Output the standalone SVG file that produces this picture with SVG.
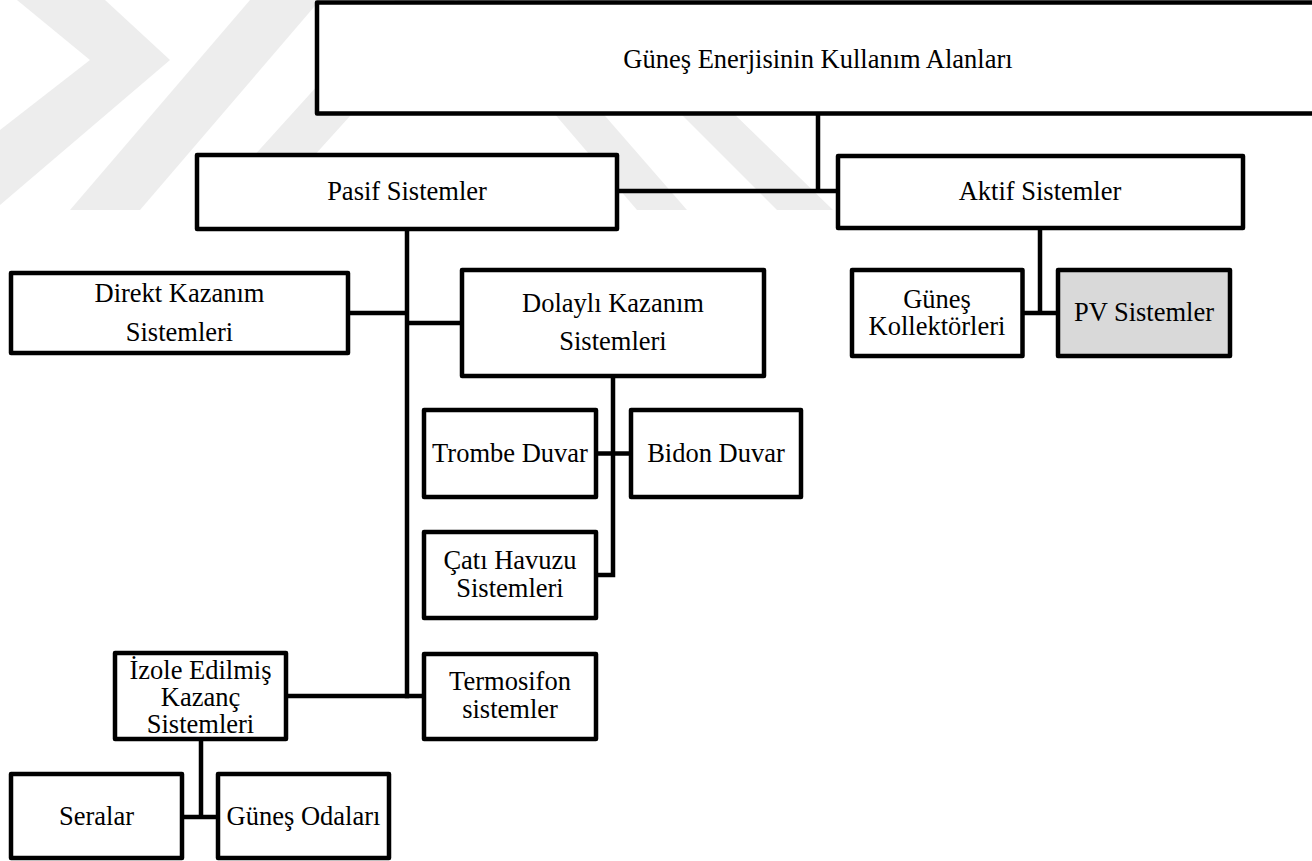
<svg xmlns="http://www.w3.org/2000/svg" width="1312" height="861" viewBox="0 0 1312 861">
  <style>
    .box { fill: #ffffff; stroke: #000000; stroke-width: 4.5; stroke-linejoin: round; }
    .box.shaded { fill: #d9d9d9; }
    .wire { fill: none; stroke: #000000; stroke-width: 4.5; stroke-linecap: square; }
    .label { font-family: "Liberation Serif", "Times New Roman", serif; font-size: 26.5px; fill: #000000; text-anchor: middle; }
    .mark { fill: #ededed; }
  </style>

  <rect width="1312" height="861" fill="#ffffff"/>

  <!-- faint background emblem -->
  <g id="emblem">
    <polygon class="mark" points="17,0 105,0 170,60 0,205 0,130 90,60"/>
    <polygon class="mark" points="70,210 140,210 320,0 250,0"/>
    <polygon class="mark" points="205,210 265,210 455,0 395,0"/>
    <polygon class="mark" points="457,0 504,0 687,210 637,210"/>
    <polygon class="mark" points="567,0 617,0 833,210 777,210"/>
  </g>

  <!-- connectors -->
  <g id="connectors">
    <path class="wire" d="M818,113 V191 M617,191 H838"/>
    <path class="wire" d="M407,229 V696 M348,313 H407 M407,323 H462"/>
    <path class="wire" d="M613,376 V575 M596,453.5 H631 M596,575 H613"/>
    <path class="wire" d="M286,696 H424"/>
    <path class="wire" d="M201,739 V817 M182,817 H218"/>
    <path class="wire" d="M1040,228 V313 M1022,313 H1058"/>
  </g>

  <g id="root">
    <rect class="box" x="317" y="2.5" width="1050" height="111"/>
    <text class="label" x="818" y="68">Güneş Enerjisinin Kullanım Alanları</text>
  </g>

  <g id="pasif">
    <rect class="box" x="197" y="155" width="420" height="74"/>
    <text class="label" x="407" y="200">Pasif Sistemler</text>
  </g>

  <g id="aktif">
    <rect class="box" x="838" y="156" width="405" height="72"/>
    <text class="label" x="1040" y="200">Aktif Sistemler</text>
  </g>

  <g id="direkt">
    <rect class="box" x="11" y="273" width="337" height="80"/>
    <text class="label" x="179.5" y="302">Direkt Kazanım</text>
    <text class="label" x="179.5" y="341">Sistemleri</text>
  </g>

  <g id="dolayli">
    <rect class="box" x="462" y="270" width="302" height="106"/>
    <text class="label" x="613" y="312">Dolaylı Kazanım</text>
    <text class="label" x="613" y="350">Sistemleri</text>
  </g>

  <g id="trombe">
    <rect class="box" x="424" y="410" width="172" height="87"/>
    <text class="label" x="510" y="462">Trombe Duvar</text>
  </g>

  <g id="bidon">
    <rect class="box" x="631" y="410" width="170" height="87"/>
    <text class="label" x="716" y="462">Bidon Duvar</text>
  </g>

  <g id="cati">
    <rect class="box" x="424" y="532" width="172" height="86"/>
    <text class="label" x="510" y="569">Çatı Havuzu</text>
    <text class="label" x="510" y="597">Sistemleri</text>
  </g>

  <g id="termosifon">
    <rect class="box" x="424" y="654" width="172" height="85"/>
    <text class="label" x="510" y="690">Termosifon</text>
    <text class="label" x="510" y="718">sistemler</text>
  </g>

  <g id="izole">
    <rect class="box" x="115" y="653" width="171" height="86"/>
    <text class="label" x="200.5" y="679">İzole Edilmiş</text>
    <text class="label" x="200.5" y="706">Kazanç</text>
    <text class="label" x="200.5" y="733">Sistemleri</text>
  </g>

  <g id="seralar">
    <rect class="box" x="11" y="774" width="171" height="84"/>
    <text class="label" x="96.5" y="825">Seralar</text>
  </g>

  <g id="gunes-odalari">
    <rect class="box" x="218" y="774" width="171" height="84"/>
    <text class="label" x="303.5" y="825">Güneş Odaları</text>
  </g>

  <g id="kollektor">
    <rect class="box" x="852" y="270" width="170.5" height="86"/>
    <text class="label" x="937" y="307.5">Güneş</text>
    <text class="label" x="937" y="335">Kollektörleri</text>
  </g>

  <g id="pv">
    <rect class="box shaded" x="1058" y="270" width="172" height="86"/>
    <text class="label" x="1144" y="321">PV Sistemler</text>
  </g>
</svg>
